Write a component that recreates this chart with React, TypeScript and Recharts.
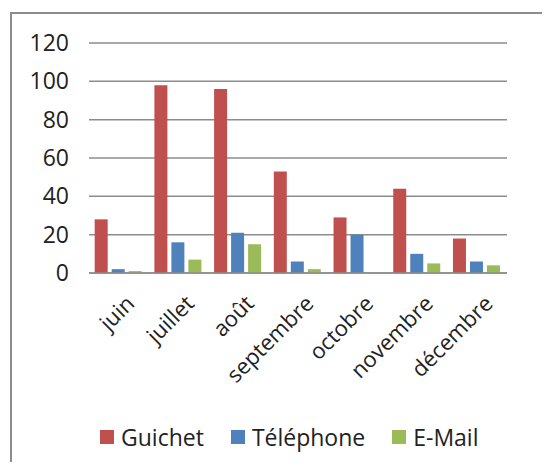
import { BarChart, Bar, XAxis, YAxis, CartesianGrid, Legend } from 'recharts';

const months = ['juin', 'juillet', 'août', 'septembre', 'octobre', 'novembre', 'décembre'];
const guichet = [28, 98, 96, 53, 29, 44, 18];
const telephone = [2, 16, 21, 6, 20, 10, 6];
const email = [1, 7, 15, 2, 0, 5, 4];
const yTicks = [0, 20, 40, 60, 80, 100, 120];

const series = [
  { key: 'guichet', name: 'Guichet', color: '#C0504D' },
  { key: 'telephone', name: 'Téléphone', color: '#4F81BD' },
  { key: 'email', name: 'E-Mail', color: '#9BBB59' },
];

const data = months.map((m, i) => ({
  month: m,
  guichet: guichet[i],
  telephone: telephone[i],
  email: email[i],
}));

const font = '"Open Sans", "Noto Sans", sans-serif';

function MonthTick({ x, y, payload }: any) {
  const tx = x + 17;
  const ty = y + 24;
  return (
    <text
      x={tx}
      y={ty}
      transform={`rotate(-45 ${tx} ${ty})`}
      textAnchor="end"
      fill="#222"
      fontSize={22}
      fontFamily={font}
    >
      {payload.value}
    </text>
  );
}

function LegendBox() {
  return (
    <div style={{ display: 'flex', alignItems: 'center', fontFamily: font, fontSize: 23, color: '#222', whiteSpace: 'nowrap' }}>
      {series.map((s, i) => (
        <div key={s.key} style={{ display: 'flex', alignItems: 'center', marginRight: i < series.length - 1 ? 27 : 0 }}>
          <span style={{ width: 14, height: 14, background: s.color, marginRight: 7, display: 'inline-block' }} />
          <span>{s.name}</span>
        </div>
      ))}
    </div>
  );
}

export default function App() {
  return (
    <div style={{ position: 'relative', width: 550, height: 470, margin: -8, overflow: 'hidden', background: '#fff' }}>
      <div
        style={{
          position: 'absolute',
          left: 10,
          top: 12,
          width: 600,
          height: 600,
          border: '2px solid #8c8c8c',
        }}
      />
      <div style={{ position: 'absolute', left: 0, top: 0 }}>
        <BarChart
          width={550}
          height={470}
          data={data}
          margin={{ top: 43, right: 43, bottom: 0, left: 9 }}
          barCategoryGap="9.5%"
          barGap={4}
        >
          <CartesianGrid vertical={false} stroke="#8c8c8c" strokeWidth={1.5} />
          <XAxis
            dataKey="month"
            height={165}
            axisLine={{ stroke: '#8c8c8c', strokeWidth: 1.5 }}
            tickLine={false}
            tick={<MonthTick />}
            interval={0}
          />
          <YAxis
            domain={[0, 120]}
            ticks={yTicks}
            width={80}
            axisLine={false}
            tickLine={false}
            tickSize={0}
            tickMargin={20}
            tick={{ fill: '#222', fontSize: 23, fontFamily: font }}
          />
          <Legend
            verticalAlign="bottom"
            wrapperStyle={{ left: 100, bottom: 17, width: 'auto' }}
            content={<LegendBox />}
          />
          {series.map((s) => (
            <Bar key={s.key} dataKey={s.key} name={s.name} fill={s.color} isAnimationActive={false} />
          ))}
        </BarChart>
      </div>
    </div>
  );
}
